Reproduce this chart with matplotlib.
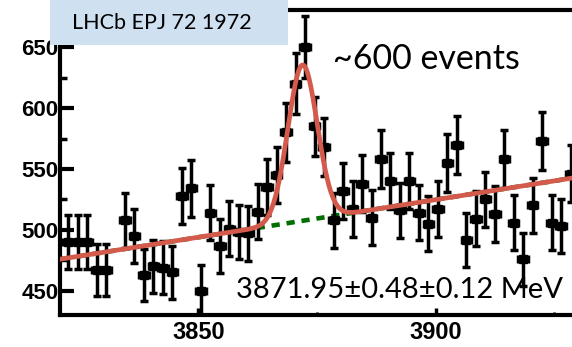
import matplotlib
matplotlib.use("Agg")
import matplotlib.pyplot as plt
import numpy as np
from matplotlib.patches import Rectangle

# binned J/psi pi pi mass spectrum, 2 MeV bins
first_bin = 3822.5
bin_width = 2.0
counts = [490, 490, 490, 467, 467, np.nan, 508, 495, 463, 470,
          469, 465, 528, 534, 450, 514, 487, 501, 498, 497,
          515, 535, 545, 580, 620, 650, 585, 568, 508, 532,
          517, 538, 510, 558, 540, 516, 540, 514, 505, 517,
          555, 570, 492, 509, 525, 513, 558, 506, 476, 520,
          573, 506, 503, 546]

# fit parameters (gaussian signal + linear background)
peak_mass = 3871.95
peak_sigma = 3.1
peak_height = 128
bkg_at_3821 = 476
bkg_slope = 0.617

mass = first_bin + bin_width * np.arange(len(counts))
counts = np.array(counts, dtype=float)
errs = np.sqrt(counts)

fig = plt.figure(figsize=(5.72, 3.47), dpi=100)
ax = fig.add_axes([0.105, 0.092, 0.905, 0.879])

# fit curves
m = np.linspace(3815, 3935, 600)
bkg = bkg_at_3821 + bkg_slope * (m - 3821)
sig = peak_height * np.exp(-0.5 * ((m - peak_mass) / peak_sigma) ** 2)
ax.plot(m, bkg, color="#006e00", lw=3.3, linestyle=(0, (1.8, 1.5)), zorder=2)
ax.plot(m, bkg + sig, color="#d45a4c", lw=3.4, zorder=4, solid_capstyle="butt")

ax.errorbar(mass, counts, yerr=errs, xerr=bin_width / 2, fmt="s", color="black",
            ms=5.5, elinewidth=2.5, capsize=3.2, capthick=2.5, zorder=3)

ax.set_xlim(3820.8, 3930)
ax.set_ylim(430, 680.5)
ax.set_xticks([3850, 3900])
ax.set_xticks([3875, 3925], minor=True)
ax.set_yticks([450, 500, 550, 600, 650])
ax.set_yticks([475, 525, 575, 625], minor=True)

for s in ["left", "bottom", "top"]:
    ax.spines[s].set_linewidth(3)
ax.spines["right"].set_visible(False)

ax.tick_params(axis="y", which="major", direction="in", length=10, width=3, pad=1)
ax.tick_params(axis="y", which="minor", direction="in", length=5, width=2.5)
ax.tick_params(axis="x", which="major", direction="in", length=5, width=2.5, pad=4)
ax.tick_params(axis="x", which="minor", direction="in", length=2, width=2)
for lab in ax.get_yticklabels():
    lab.set_fontfamily("Liberation Sans")
    lab.set_fontweight("bold")
    lab.set_fontsize(16)
for lab in ax.get_xticklabels():
    lab.set_fontfamily("Liberation Sans")
    lab.set_fontweight("bold")
    lab.set_fontsize(17)

# annotations
fig.text(0.583, 0.83, "~600 events", fontsize=24.5, family="Lato", va="center", ha="left")
fig.text(0.413, 0.165, "3871.95\u00b10.48\u00b10.12 MeV", fontsize=21, family="Lato",
         va="center", ha="left")

box = Rectangle((0.087, 0.87), 0.417, 0.13, transform=fig.transFigure,
                facecolor="#cfe0f1", edgecolor="none", zorder=10)
fig.patches.append(box)
fig.text(0.126, 0.935, "LHCb EPJ 72 1972", fontsize=15.5, family="Lato",
         va="center", ha="left", zorder=11)

fig.savefig("out.png", dpi=100)
